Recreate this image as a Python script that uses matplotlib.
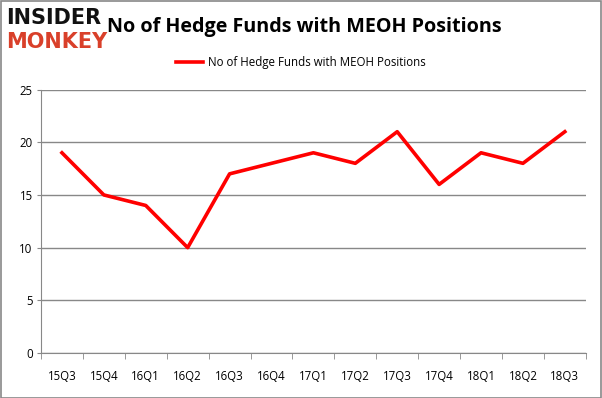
import matplotlib
matplotlib.use('Agg')
import matplotlib.pyplot as plt

quarters = ['15Q3', '15Q4', '16Q1', '16Q2', '16Q3', '16Q4', '17Q1',
            '17Q2', '17Q3', '17Q4', '18Q1', '18Q2', '18Q3']
hedge_funds = [19, 15, 14, 10, 17, 18, 19, 18, 21, 16, 19, 18, 21]
y_ticks = [0, 5, 10, 15, 20, 25]

plt.rcParams['font.family'] = ['Open Sans', 'DejaVu Sans']

fig = plt.figure(figsize=(6.02, 3.98), dpi=100)
ax = fig.add_axes([0.0681, 0.113, 0.905, 0.662])

x = list(range(len(quarters)))
ax.plot(x, hedge_funds, color='#ff0000', linewidth=2.6,
        label='No of Hedge Funds with MEOH Positions')

ax.set_xlim(-0.5, len(quarters) - 0.5)
ax.set_ylim(0, 25)
ax.set_yticks(y_ticks)
ax.set_yticklabels([str(v) for v in y_ticks], fontsize=8.3)
ax.set_xticks(x)
ax.set_xticklabels(quarters, fontsize=8.3)
ax.tick_params(axis='x', length=0, pad=12)
ax.tick_params(axis='y', length=3, color='#888888', pad=3)
# category boundary ticks
ax.set_xticks([i - 0.5 for i in range(len(quarters) + 1)], minor=True)
ax.tick_params(axis='x', which='minor', length=4, color='#888888', direction='out')

ax.grid(axis='y', color='#888888', linewidth=1)
ax.set_axisbelow(True)
for s in ['top', 'right']:
    ax.spines[s].set_visible(False)
ax.spines['left'].set_color('#888888')
ax.spines['bottom'].set_color('#888888')

fig.text(0.505, 0.932, 'No of Hedge Funds with MEOH Positions', ha='center', va='center',
         fontsize=14.2, fontweight='bold')
leg = fig.legend(loc='center', bbox_to_anchor=(0.5, 0.843), frameon=False,
                 fontsize=8.3, handlelength=2.3, handletextpad=0.5)

# logo
fig.text(0.01, 0.955, 'INSIDER', ha='left', va='center', fontsize=15,
         fontweight='heavy', color='#111111', family=['DejaVu Sans'])
fig.text(0.01, 0.895, 'MONKEY', ha='left', va='center', fontsize=15,
         fontweight='heavy', color='#d9402a', family=['DejaVu Sans'])

# outer border
fig.patches.append(plt.Rectangle((0.001, 0.001), 0.997, 0.996, transform=fig.transFigure,
                                 fill=False, edgecolor='#888888', linewidth=1.2))

fig.savefig('out.png', dpi=100)
